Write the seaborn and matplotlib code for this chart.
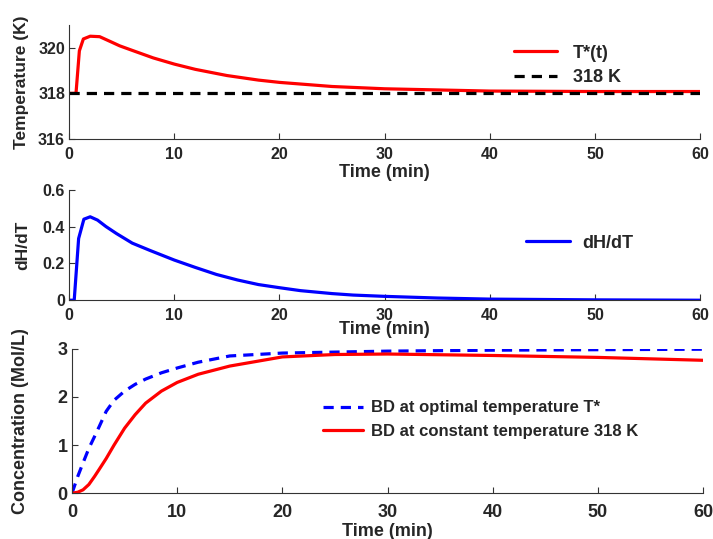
import matplotlib
matplotlib.use("Agg")
import matplotlib.pyplot as plt
import matplotlib.transforms as mtransforms
import seaborn as sns
import pandas as pd

# temperature profile T*(t)
t_temp = [0, 0.65, 0.97, 1.35, 2, 2.9, 4, 4.8, 6, 8, 10, 12, 15, 18, 20, 25, 30, 35, 40, 50, 60]
temp_opt = [318.0, 318.0, 319.86, 320.38, 320.5, 320.48, 320.25, 320.08, 319.88, 319.55,
            319.28, 319.05, 318.78, 318.58, 318.48, 318.3, 318.2, 318.15, 318.1, 318.08, 318.08]
temp_const = 318

# dH/dT
t_dh = [0, 0.48, 0.9, 1.4, 2, 2.7, 3.5, 4.5, 6, 7.7, 10, 12, 14, 16, 18, 20, 22, 25, 27, 30,
        35, 40, 50, 60]
dh_dt = [0, 0, 0.335, 0.44, 0.453, 0.435, 0.40, 0.362, 0.31, 0.27, 0.218, 0.178, 0.14, 0.11,
         0.085, 0.068, 0.052, 0.036, 0.028, 0.021, 0.012, 0.006, 0.002, 0.0]

# BD concentration
t_conc = [0, 0.55, 1.05, 1.6, 2.15, 2.6, 3.25, 4, 5, 6, 7, 8.5, 10, 12, 15, 20, 25, 30, 40, 50, 60]
bd_opt = [0, 0.35, 0.63, 0.93, 1.18, 1.39, 1.7, 1.93, 2.12, 2.26, 2.37, 2.5, 2.6, 2.72, 2.85,
          2.91, 2.93, 2.95, 2.97, 2.98, 2.99]
bd_const = [0, 0.02, 0.07, 0.18, 0.35, 0.5, 0.72, 1.0, 1.35, 1.63, 1.87, 2.12, 2.3, 2.47, 2.64,
            2.83, 2.88, 2.89, 2.86, 2.82, 2.76]

sns.set_style("ticks")
plt.rcParams["font.family"] = ["Liberation Sans", "DejaVu Sans"]
plt.rcParams["font.weight"] = "bold"
plt.rcParams["axes.labelweight"] = "bold"
plt.rcParams["xtick.direction"] = "in"
plt.rcParams["ytick.direction"] = "in"

fig = plt.figure(figsize=(7.13, 5.39), dpi=100)
lw = 2.3
dash = (0, (3.2, 2.2))


def style_axis(ax, ylabel, tick_fs, lab_fs, xpad, labelpad, ylab_x):
    sns.despine(ax=ax)
    for s in ["left", "bottom"]:
        ax.spines[s].set_linewidth(0.8)
        ax.spines[s].set_color("#333333")
    ax.tick_params(labelsize=tick_fs, length=4, width=0.8, color="#333333")
    ax.tick_params(axis="x", pad=xpad)
    ax.tick_params(axis="y", pad=3)
    ax.set_xlim(0, 60)
    ax.set_xticks([0, 10, 20, 30, 40, 50, 60])
    ax.set_xlabel("Time (min)", fontsize=13, labelpad=labelpad)
    ax.set_ylabel(ylabel, fontsize=lab_fs)
    trans = mtransforms.blended_transform_factory(fig.transFigure, ax.transAxes)
    ax.yaxis.set_label_coords(ylab_x, 0.5, transform=trans)
    for lab in ax.get_xticklabels() + ax.get_yticklabels():
        lab.set_fontweight("bold")


# top panel
ax1 = fig.add_axes([0.097, 0.742, 0.885, 0.212])
df1 = pd.DataFrame({"t": t_temp, "T": temp_opt})
sns.lineplot(data=df1, x="t", y="T", color="red", lw=lw, ax=ax1, label="T*(t)")
ax1.axhline(temp_const, color="black", lw=lw, ls=dash, label="318 K")
ax1.set_ylim(316, 321)
ax1.set_yticks([316, 318, 320])
style_axis(ax1, "Temperature (K)", 11.5, 12.5, 5.5, 1.5, 0.04)
ax1.legend(loc="upper left", bbox_to_anchor=(0.69, 0.905), frameon=False, fontsize=13,
           handlelength=2.4, handletextpad=0.9, borderpad=0, labelspacing=0.4)

# middle panel
ax2 = fig.add_axes([0.097, 0.443, 0.885, 0.205])
df2 = pd.DataFrame({"t": t_dh, "dH": dh_dt})
sns.lineplot(data=df2, x="t", y="dH", color="blue", lw=lw, ax=ax2, label="dH/dT")
ax2.set_ylim(0, 0.6)
ax2.set_yticks([0, 0.2, 0.4, 0.6])
ax2.set_yticklabels(["0", "0.2", "0.4", "0.6"])
style_axis(ax2, "dH/dT", 11.5, 12.5, 5.5, -1, 0.043)
ax2.legend(loc="upper left", bbox_to_anchor=(0.71, 0.675), frameon=False, fontsize=13,
           handlelength=2.4, handletextpad=0.7, borderpad=0)

# bottom panel
ax3 = fig.add_axes([0.101, 0.085, 0.885, 0.268])
df3 = pd.DataFrame({"t": t_conc, "opt": bd_opt, "const": bd_const})
sns.lineplot(data=df3, x="t", y="opt", color="blue", lw=lw, ls=dash, ax=ax3,
             label="BD at optimal temperature T*")
sns.lineplot(data=df3, x="t", y="const", color="red", lw=lw, ax=ax3,
             label="BD at constant temperature 318 K")
ax3.set_ylim(0, 3)
ax3.set_yticks([0, 1, 2, 3])
style_axis(ax3, "Concentration (Mol/L)", 13, 13, 7.5, 1.5, 0.04)
ax3.legend(loc="upper left", bbox_to_anchor=(0.385, 0.7), frameon=False, fontsize=12,
           handlelength=2.4, handletextpad=0.45, borderpad=0, labelspacing=0.5)

fig.savefig("out.png", dpi=100)
